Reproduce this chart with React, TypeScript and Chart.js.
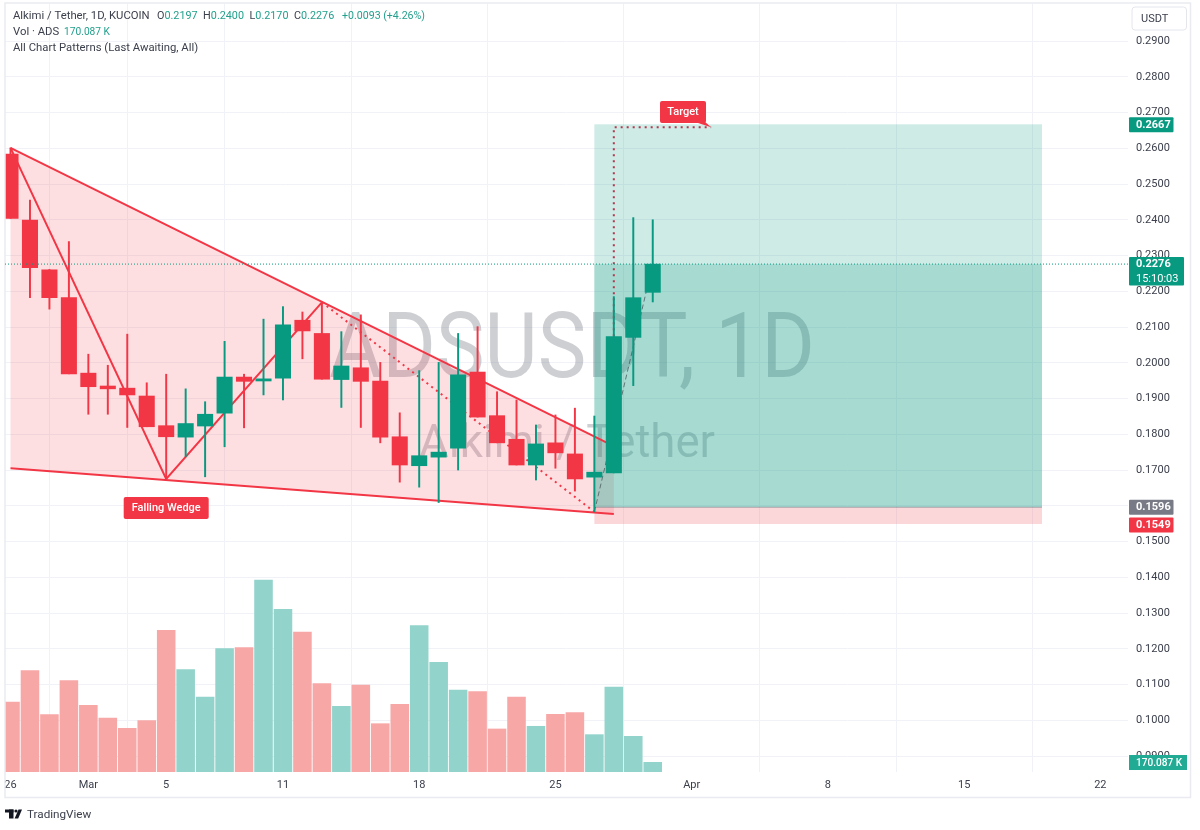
import React, { useEffect, useRef } from "react";
import { Chart, registerables } from "chart.js";

Chart.register(...registerables);

const FONT = "Roboto, 'Noto Sans', sans-serif";
const RED = "#f23645";
const TEAL = "#089981";
const TEXT = "#3c404c";

const opens = [0.2584, 0.2399, 0.2260, 0.2182, 0.1971, 0.1935, 0.1929, 0.1907, 0.1824, 0.1792, 0.1823, 0.1859, 0.1960, 0.1949, 0.1957, 0.2119, 0.2082, 0.1953, 0.1986, 0.1949, 0.1793, 0.1712, 0.1736, 0.1761, 0.1974, 0.1852, 0.1786, 0.1714, 0.1776, 0.1745, 0.1680, 0.1692, 0.2071, 0.2197];
const highs = [0.2601, 0.2455, 0.2261, 0.2339, 0.2024, 0.1993, 0.2080, 0.1944, 0.1968, 0.1927, 0.1891, 0.2060, 0.1968, 0.2122, 0.2157, 0.2142, 0.2166, 0.2087, 0.2134, 0.2001, 0.1860, 0.1978, 0.2001, 0.2082, 0.2101, 0.1919, 0.1896, 0.1826, 0.1854, 0.1873, 0.1851, 0.2185, 0.2406, 0.2400];
const lows = [0.2404, 0.2182, 0.2150, 0.1969, 0.1856, 0.1856, 0.1819, 0.1821, 0.1675, 0.1737, 0.1681, 0.1765, 0.1818, 0.1910, 0.1896, 0.2011, 0.1954, 0.1875, 0.1819, 0.1776, 0.1666, 0.1652, 0.1609, 0.1700, 0.1848, 0.1776, 0.1714, 0.1672, 0.1705, 0.1641, 0.1583, 0.1692, 0.1936, 0.2170];
const closes = [0.2404, 0.2266, 0.2182, 0.1969, 0.1933, 0.1927, 0.1910, 0.1821, 0.1793, 0.1830, 0.1856, 0.1960, 0.1948, 0.1955, 0.2106, 0.2089, 0.1954, 0.1991, 0.1948, 0.1792, 0.1714, 0.1740, 0.1750, 0.1966, 0.1848, 0.1776, 0.1714, 0.1773, 0.1748, 0.1675, 0.1694, 0.2073, 0.2182, 0.2276];
const volumes = [1232, 1783, 1009, 1607, 1173, 950, 768, 903, 2493, 1801, 1320, 2170, 2188, 3378, 2862, 2463, 1554, 1155, 1531, 850, 1191, 2575, 1930, 1443, 1413, 757, 1320, 804, 1015, 1044, 657, 1496, 628, 170.087];

const priceTicks = [0.29, 0.28, 0.27, 0.26, 0.25, 0.24, 0.23, 0.22, 0.21, 0.2, 0.19, 0.18, 0.17, 0.16, 0.15, 0.14, 0.13, 0.12, 0.11, 0.1, 0.09];
const dateTickDays = [0, 4, 8, 14, 21, 28, 35, 42, 49, 56];
const dateTickLabels = ["26", "Mar", "5", "11", "18", "25", "Apr", "8", "15", "22"];

const wedgeDays = [0, 31, 31, 0];
const wedgePrices = [0.2601, 0.1767, 0.1577, 0.1705];
const zigzagDays = [0, 8, 16];
const zigzagPrices = [0.2601, 0.1675, 0.2169];
const dottedDays = [16, 30];
const dottedPrices = [0.2169, 0.1583];
const forecastDays = [30, 33];
const forecastPrices = [0.1583, 0.2276];
const targetDays = [31, 31, 36];
const targetPrices = [0.2074, 0.2659, 0.2659];

const boxStartDay = 30;
const boxEndDay = 53;
const targetPrice = 0.2667;
const entryPrice = 0.1596;
const stopPrice = 0.1549;
const lastPrice = 0.2276;

const headerSymbol = "Alkimi / Tether, 1D, KUCOIN";
const ohlc = [["O", "0.2197"], ["H", "0.2400"], ["L", "0.2170"], ["C", "0.2276"]];
const change = "+0.0093 (+4.26%)";

function roundRect(ctx: CanvasRenderingContext2D, x: number, y: number, w: number, h: number, r: number) {
  ctx.beginPath();
  ctx.roundRect(x, y, w, h, r);
}

function polyline(ctx: CanvasRenderingContext2D, xs: any, ys: any, days: number[], prices: number[]) {
  ctx.beginPath();
  days.forEach((d, i) => {
    const px = xs.getPixelForValue(d);
    const py = ys.getPixelForValue(prices[i]);
    if (i === 0) ctx.moveTo(px, py);
    else ctx.lineTo(px, py);
  });
}

const background = {
  id: "background",
  beforeDatasetsDraw(chart: any) {
    const { ctx, chartArea: a, scales } = chart;
    const xs = scales.x;
    const ys = scales.y;
    ctx.save();
    ctx.beginPath();
    ctx.rect(a.left, a.top, a.right - a.left, a.bottom - a.top);
    ctx.clip();

    // watermark
    ctx.textBaseline = "alphabetic";
    ctx.textAlign = "left";
    ctx.fillStyle = "rgba(120,123,134,0.36)";
    ctx.font = `90px ${FONT}`;
    ctx.fillText("ADSUSDT, 1D", 329, 377, 486);
    ctx.font = `46px ${FONT}`;
    ctx.fillText("Alkimi / Tether", 419, 457, 296);

    const bx0 = xs.getPixelForValue(boxStartDay);
    const bx1 = xs.getPixelForValue(boxEndDay);
    const yT = ys.getPixelForValue(targetPrice);
    const yE = ys.getPixelForValue(entryPrice);
    const yS = ys.getPixelForValue(stopPrice);
    const yL = ys.getPixelForValue(lastPrice);

    // wedge fill
    polyline(ctx, xs, ys, wedgeDays, wedgePrices);
    ctx.closePath();
    ctx.fillStyle = "rgba(242,54,69,0.16)";
    ctx.fill();

    // position boxes
    ctx.fillStyle = "rgba(8,153,129,0.2)";
    ctx.fillRect(bx0, yT, bx1 - bx0, yE - yT);
    ctx.fillRect(bx0, yL, bx1 - bx0, yE - yL);
    ctx.fillStyle = "rgba(242,54,69,0.2)";
    ctx.fillRect(bx0, yE, bx1 - bx0, yS - yE);
    ctx.fillStyle = "rgba(120,123,134,0.6)";
    ctx.fillRect(bx0, yE - 0.5, bx1 - bx0, 1);

    // wedge outline
    ctx.strokeStyle = RED;
    ctx.lineWidth = 2;
    ctx.setLineDash([]);
    polyline(ctx, xs, ys, [wedgeDays[0], wedgeDays[1]], [wedgePrices[0], wedgePrices[1]]);
    ctx.stroke();
    polyline(ctx, xs, ys, [wedgeDays[3], wedgeDays[2]], [wedgePrices[3], wedgePrices[2]]);
    ctx.stroke();
    polyline(ctx, xs, ys, zigzagDays, zigzagPrices);
    ctx.stroke();

    // dotted lines
    ctx.lineWidth = 2;
    ctx.setLineDash([2, 4]);
    polyline(ctx, xs, ys, dottedDays, dottedPrices);
    ctx.stroke();
    ctx.strokeStyle = "#b23a50";
    polyline(ctx, xs, ys, targetDays, targetPrices);
    ctx.stroke();

    // forecast dashed
    ctx.strokeStyle = "rgba(70,85,90,0.75)";
    ctx.lineWidth = 1;
    ctx.setLineDash([5, 3]);
    polyline(ctx, xs, ys, forecastDays, forecastPrices);
    ctx.stroke();
    ctx.restore();
  },
};

function rightLabel(ctx: CanvasRenderingContext2D, y: number, w: number, h: number, color: string, lines: string[]) {
  ctx.fillStyle = color;
  roundRect(ctx, 1129, y, w, h, 1);
  ctx.fill();
  ctx.fillStyle = "#ffffff";
  ctx.textAlign = "left";
  ctx.textBaseline = "middle";
  lines.forEach((t, i) => {
    ctx.font = i === 0 ? `bold 11px ${FONT}` : `11px ${FONT}`;
    ctx.fillText(t, 1136, y + (h / lines.length) * (i + 0.5) + 0.5);
  });
}

const overlay = {
  id: "overlay",
  afterDraw(chart: any) {
    const { ctx, scales } = chart;
    const xs = scales.x;
    const ys = scales.y;
    ctx.save();

    // frame
    ctx.strokeStyle = "#e9ebf0";
    ctx.lineWidth = 1.5;
    ctx.strokeRect(5, 3, 1185.5, 794.5);

    // last price line
    const yL = ys.getPixelForValue(lastPrice);
    ctx.strokeStyle = TEAL;
    ctx.lineWidth = 1;
    ctx.setLineDash([1, 2]);
    ctx.beginPath();
    ctx.moveTo(5, yL);
    ctx.lineTo(1128, yL);
    ctx.stroke();
    ctx.setLineDash([]);

    // pattern labels
    const wx = xs.getPixelForValue(8);
    ctx.fillStyle = RED;
    roundRect(ctx, wx - 42.5, 497, 85, 22, 2);
    ctx.fill();
    ctx.fillStyle = "#ffffff";
    ctx.font = `500 11px ${FONT}`;
    ctx.textAlign = "center";
    ctx.textBaseline = "middle";
    ctx.fillText("Falling Wedge", wx, 508.5);

    const tx = xs.getPixelForValue(36);
    const ty = ys.getPixelForValue(targetPrices[2]);
    ctx.fillStyle = RED;
    roundRect(ctx, 660, 101, 46, 22, 2);
    ctx.fill();
    ctx.beginPath();
    ctx.moveTo(704, 121);
    ctx.lineTo(tx, ty);
    ctx.lineTo(698, 123);
    ctx.closePath();
    ctx.fill();
    ctx.fillStyle = "#ffffff";
    ctx.fillText("Target", 683, 112);

    // header
    ctx.textAlign = "left";
    ctx.textBaseline = "middle";
    ctx.font = `11.3px ${FONT}`;
    ctx.fillStyle = TEXT;
    ctx.fillText(headerSymbol, 13, 16);
    let cx = 157;
    ctx.font = `10.8px ${FONT}`;
    ohlc.forEach(([k, v]) => {
      ctx.fillStyle = TEXT;
      ctx.fillText(k, cx, 16);
      cx += ctx.measureText(k).width;
      ctx.fillStyle = "#22a08c";
      ctx.fillText(v, cx, 16);
      cx += ctx.measureText(v).width + 5.5;
    });
    ctx.fillStyle = "#22a08c";
    ctx.fillText(change, 342, 16, 83);
    ctx.font = `11.3px ${FONT}`;
    ctx.fillStyle = TEXT;
    ctx.fillText("Vol · ADS", 13, 32);
    ctx.fillStyle = "#22a08c";
    ctx.fillText("170.087 K", 64, 32, 46);
    ctx.fillStyle = TEXT;
    ctx.fillText("All Chart Patterns (Last Awaiting, All)", 13, 48);

    // USDT button
    ctx.fillStyle = "#ffffff";
    ctx.strokeStyle = "#e4e6ec";
    ctx.lineWidth = 1;
    roundRect(ctx, 1132, 7, 54.5, 23, 3);
    ctx.fill();
    ctx.stroke();
    ctx.fillStyle = TEXT;
    ctx.font = `11px ${FONT}`;
    ctx.fillText("USDT", 1141, 19);

    // price labels
    rightLabel(ctx, ys.getPixelForValue(targetPrice) - 7, 44.5, 15, TEAL, [targetPrice.toFixed(4)]);
    rightLabel(ctx, yL - 7, 55, 28.5, TEAL, [lastPrice.toFixed(4), "15:10:03"]);
    rightLabel(ctx, ys.getPixelForValue(entryPrice) - 7.5, 44.5, 15, "#787b86", [entryPrice.toFixed(4)]);
    rightLabel(ctx, ys.getPixelForValue(stopPrice) - 6.5, 44.5, 15, RED, [stopPrice.toFixed(4)]);
    ctx.fillStyle = "#22ab94";
    ctx.fillRect(1129, 755, 58, 15);
    ctx.fillStyle = "#ffffff";
    ctx.font = `500 11px ${FONT}`;
    ctx.fillText("170.087 K", 1136, 763, 46);

    // TradingView logo
    ctx.fillStyle = "#131722";
    ctx.fillRect(5, 809.5, 8.5, 3);
    ctx.fillRect(9, 809.5, 4.5, 9);
    ctx.beginPath();
    ctx.arc(16, 811, 1.6, 0, Math.PI * 2);
    ctx.fill();
    ctx.beginPath();
    ctx.moveTo(18.5, 809.5);
    ctx.lineTo(22, 809.5);
    ctx.lineTo(18.2, 818.5);
    ctx.lineTo(14.6, 818.5);
    ctx.closePath();
    ctx.fill();
    ctx.fillStyle = "#3c404c";
    ctx.font = `11.7px ${FONT}`;
    ctx.fillText("TradingView", 27, 815);
    ctx.restore();
  },
};

export default function App() {
  const ref = useRef<HTMLCanvasElement | null>(null);

  useEffect(() => {
    if (!ref.current) return;
    const candleColors = closes.map((c, i) => (c >= opens[i] ? TEAL : RED));
    const volumeColors = closes.map((c, i) => (c >= opens[i] ? "#92d3cb" : "#f8a7a7"));
    const chart = new Chart(ref.current, {
      type: "bar",
      data: {
        datasets: [
          {
            label: "Volume",
            yAxisID: "yVol",
            order: 3,
            grouped: false,
            barThickness: 17.9,
            backgroundColor: volumeColors,
            data: volumes.map((v, i) => ({ x: i, y: v })),
          },
          {
            label: "Wick",
            yAxisID: "y",
            order: 2,
            grouped: false,
            barThickness: 1.3,
            backgroundColor: candleColors,
            data: highs.map((h, i) => ({ x: i, y: [lows[i], h] })),
          },
          {
            label: "Body",
            yAxisID: "y",
            order: 1,
            grouped: false,
            barThickness: 15.4,
            backgroundColor: candleColors,
            data: opens.map((o, i) => ({ x: i, y: [o, closes[i]] })),
          },
        ] as any,
      },
      options: {
        responsive: false,
        animation: false,
        devicePixelRatio: 1,
        layout: { padding: { left: 5, top: 4, right: 10, bottom: 33 } },
        plugins: { legend: { display: false }, tooltip: { enabled: false } },
        scales: {
          x: {
            type: "linear",
            min: -0.283,
            max: 57.42,
            offset: false,
            border: { display: false },
            grid: { color: "#f0f2f7", drawTicks: false, lineWidth: 1 },
            afterBuildTicks: (s: any) => {
              s.ticks = dateTickDays.map((value) => ({ value }));
            },
            afterFit: (s: any) => {
              s.height = 25;
              s.paddingLeft = 0;
              s.paddingRight = 0;
            },
            ticks: {
              autoSkip: false,
              maxRotation: 0,
              padding: 7,
              color: TEXT,
              font: { family: FONT, size: 11 },
              callback: (v: any) => dateTickLabels[dateTickDays.indexOf(Number(v))] ?? "",
            },
          },
          y: {
            type: "linear",
            position: "right",
            min: 0.08553,
            max: 0.30035,
            border: { display: false },
            grid: { color: "#f0f2f7", drawTicks: false, lineWidth: 1 },
            afterBuildTicks: (s: any) => {
              s.ticks = priceTicks.map((value) => ({ value }));
            },
            afterFit: (s: any) => {
              s.width = 62;
              s.paddingTop = 0;
              s.paddingBottom = 0;
            },
            ticks: {
              autoSkip: false,
              padding: 8,
              color: TEXT,
              font: { family: FONT, size: 11 },
              callback: (v: any) => Number(v).toFixed(4),
            },
          },
          yVol: {
            type: "linear",
            display: false,
            min: 0,
            max: 13510,
            grid: { display: false },
          },
        },
      } as any,
      plugins: [background, overlay],
    });
    return () => chart.destroy();
  }, []);

  return (
    <canvas
      ref={ref}
      width={1200}
      height={830}
      style={{ position: "absolute", left: 0, top: 0, width: 1200, height: 830, display: "block", background: "#fff" }}
    />
  );
}
